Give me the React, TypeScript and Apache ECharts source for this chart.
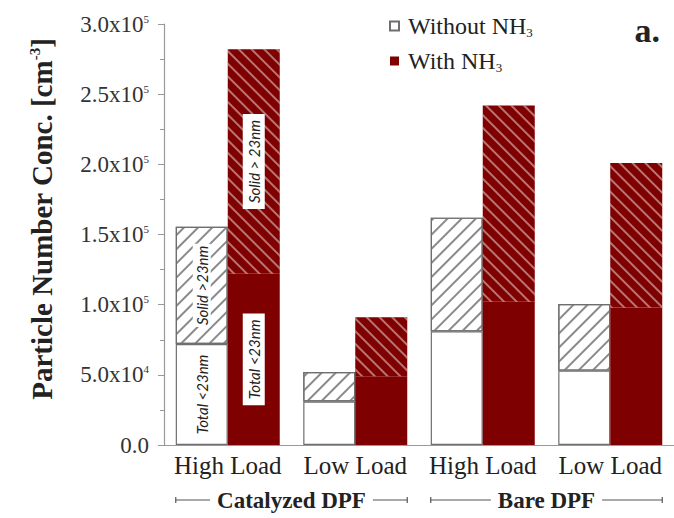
import React, { useEffect, useRef } from 'react';
import * as echarts from 'echarts';

const categories = ['High Load', 'Low Load', 'High Load', 'Low Load'];
const groupNames = ['Catalyzed DPF', 'Bare DPF'];
const groupRanges = [[0, 1], [2, 3]];
const withoutBelow23 = [72000, 31000, 81000, 53000];
const withoutSolidAbove23 = [83500, 21000, 81000, 47500];
const withBelow23 = [122000, 49000, 102000, 98000];
const withSolidAbove23 = [160000, 42000, 140000, 103000];
const yMin = 0;
const yMax = 300000;
const yInterval = 50000;

const SERIF = '"Liberation Serif", "Times New Roman", serif';
const ITALIC_SANS = 'Lato, "Open Sans", sans-serif';
const RED = '#7f0000';
const GREY = '#6f6f6f';
const TEXT = '#222';
const BAR_W = 52;

function tickLabel(v: number) {
  if (v === 0) return '{m|0.0}';
  const e = Math.floor(Math.log10(v) + 1e-9);
  const m = (v / Math.pow(10, e)).toFixed(1);
  return `{m|${m}x10}{s|${e}}`;
}

function segLabel(text: string, onRed: boolean) {
  return {
    show: true,
    position: 'inside',
    rotate: 90,
    formatter: text,
    fontFamily: ITALIC_SANS,
    fontStyle: 'italic',
    fontSize: 15,
    color: TEXT,
    backgroundColor: '#fff',
    padding: onRed ? [4, 6, 3, 6] : [2, 2, 1, 2],
  };
}

function withFirstLabel(values: number[], text: string, onRed: boolean) {
  return values.map((v, i) => (i === 0 ? { value: v, label: segLabel(text, onRed) } : v));
}

export default function App() {
  const ref = useRef<HTMLDivElement>(null);

  useEffect(() => {
    if (!ref.current) return;
    const chart = echarts.init(ref.current, undefined, { renderer: 'svg' });
    const option: any = {
      animation: false,
      backgroundColor: '#fff',
      title: {
        text: 'a.',
        right: 9,
        top: 8,
        textStyle: { fontFamily: SERIF, fontWeight: 'bold', fontSize: 34, color: TEXT },
      },
      legend: {
        data: ['Without NH3', 'With NH3'],
        orient: 'vertical',
        left: 384,
        top: 9,
        itemWidth: 9,
        itemHeight: 9,
        itemGap: 10,
        icon: 'rect',
        formatter: (name: string) =>
          name === 'Without NH3' ? '{t|Without NH}{b|3}' : '{t|With NH}{b|3}',
        textStyle: {
          padding: [0, 0, 0, 4],
          rich: {
            t: { fontFamily: SERIF, fontSize: 24, color: TEXT, lineHeight: 26 },
            b: { fontFamily: SERIF, fontSize: 13, color: TEXT, lineHeight: 10, verticalAlign: 'bottom' },
          },
        },
      },
      grid: { left: 164, right: -6, top: 24, bottom: 73 },
      xAxis: {
        type: 'category',
        data: categories,
        axisLine: { lineStyle: { color: '#999', width: 1.2 } },
        axisTick: { alignWithLabel: true, length: 5, lineStyle: { color: '#999' } },
        axisLabel: { interval: 0, fontFamily: SERIF, fontSize: 25, color: TEXT, margin: 8 },
      },
      yAxis: {
        type: 'value',
        min: yMin,
        max: yMax,
        interval: yInterval,
        splitLine: { show: false },
        axisLine: { show: true, lineStyle: { color: '#999', width: 1.2 } },
        axisTick: { show: true, length: 6, lineStyle: { color: '#999' } },
        minorTick: { show: true, splitNumber: 2, length: 4, lineStyle: { color: '#999' } },
        axisLabel: {
          margin: 15,
          formatter: tickLabel,
          rich: {
            m: { fontFamily: SERIF, fontSize: 23, color: '#333', lineHeight: 22 },
            s: { fontFamily: SERIF, fontSize: 11, color: '#333', lineHeight: 10, verticalAlign: 'top' },
          },
        },
      },
      series: [
        {
          name: 'Without NH3',
          type: 'bar',
          stack: 'without',
          barWidth: BAR_W,
          barGap: '0%',
          data: withFirstLabel(withoutBelow23, 'Total <23nm', false),
          itemStyle: { color: '#fff', borderColor: GREY, borderWidth: 1.2 },
        },
        {
          name: 'Without NH3 solid',
          type: 'bar',
          stack: 'without',
          barWidth: BAR_W,
          barGap: '0%',
          data: withFirstLabel(withoutSolidAbove23, 'Solid >23nm', false),
          itemStyle: {
            color: '#fff',
            borderColor: GREY,
            borderWidth: 1.2,
            decal: {
              symbol: 'rect',
              symbolSize: 1,
              dashArrayX: [1, 0],
              dashArrayY: [1.2, 8],
              rotation: -Math.PI / 4,
              color: '#8a8a8a',
            },
          },
        },
        {
          name: 'With NH3',
          type: 'bar',
          stack: 'with',
          barWidth: BAR_W,
          barGap: '0%',
          data: withFirstLabel(withBelow23, 'Total <23nm', true),
          itemStyle: { color: RED },
        },
        {
          name: 'With NH3 solid',
          type: 'bar',
          stack: 'with',
          barWidth: BAR_W,
          barGap: '0%',
          data: withFirstLabel(withSolidAbove23, 'Solid > 23nm', true),
          itemStyle: {
            color: RED,
            decal: {
              symbol: 'rect',
              symbolSize: 1,
              dashArrayX: [1, 0],
              dashArrayY: [1.6, 7],
              rotation: Math.PI / 4,
              color: 'rgba(255,255,255,0.45)',
            },
          },
        },
      ],
    };
    chart.setOption(option);

    const bracketY = 500;
    const elements: any[] = [
      {
        type: 'text',
        x: 42,
        y: 219,
        rotation: Math.PI / 2,
        style: {
          text: '{t|Particle Number Conc. [cm}{s|-3}{t|]}',
          align: 'center',
          verticalAlign: 'middle',
          rich: {
            t: { fontFamily: SERIF, fontWeight: 'bold', fontSize: 29, fill: TEXT, lineHeight: 30 },
            s: { fontFamily: SERIF, fontWeight: 'bold', fontSize: 15, fill: TEXT, lineHeight: 14, verticalAlign: 'top' },
          },
        },
      },
    ];
    groupRanges.forEach(([a, b], gi) => {
      const left = (chart.convertToPixel({ xAxisIndex: 0 }, a) as number) - BAR_W;
      const right = (chart.convertToPixel({ xAxisIndex: 0 }, b) as number) + BAR_W;
      elements.push(
        { type: 'line', z: 10, shape: { x1: left, y1: bracketY, x2: right, y2: bracketY }, style: { stroke: '#555', lineWidth: 1.2 } },
        { type: 'line', z: 10, shape: { x1: left, y1: bracketY - 3, x2: left, y2: bracketY + 3 }, style: { stroke: '#555', lineWidth: 1.2 } },
        { type: 'line', z: 10, shape: { x1: right, y1: bracketY - 3, x2: right, y2: bracketY + 3 }, style: { stroke: '#555', lineWidth: 1.2 } },
        {
          type: 'text',
          z: 11,
          x: (left + right) / 2,
          y: bracketY,
          style: {
            text: groupNames[gi],
            align: 'center',
            verticalAlign: 'middle',
            fontFamily: SERIF,
            fontWeight: 'bold',
            fontSize: 23,
            fill: TEXT,
            backgroundColor: '#fff',
            padding: [0, 7],
          },
        },
      );
    });
    chart.setOption({ graphic: { elements } });

    return () => chart.dispose();
  }, []);

  return (
    <div
      ref={ref}
      style={{ position: 'fixed', left: 0, top: 0, width: 674, height: 518, background: '#fff' }}
    />
  );
}
